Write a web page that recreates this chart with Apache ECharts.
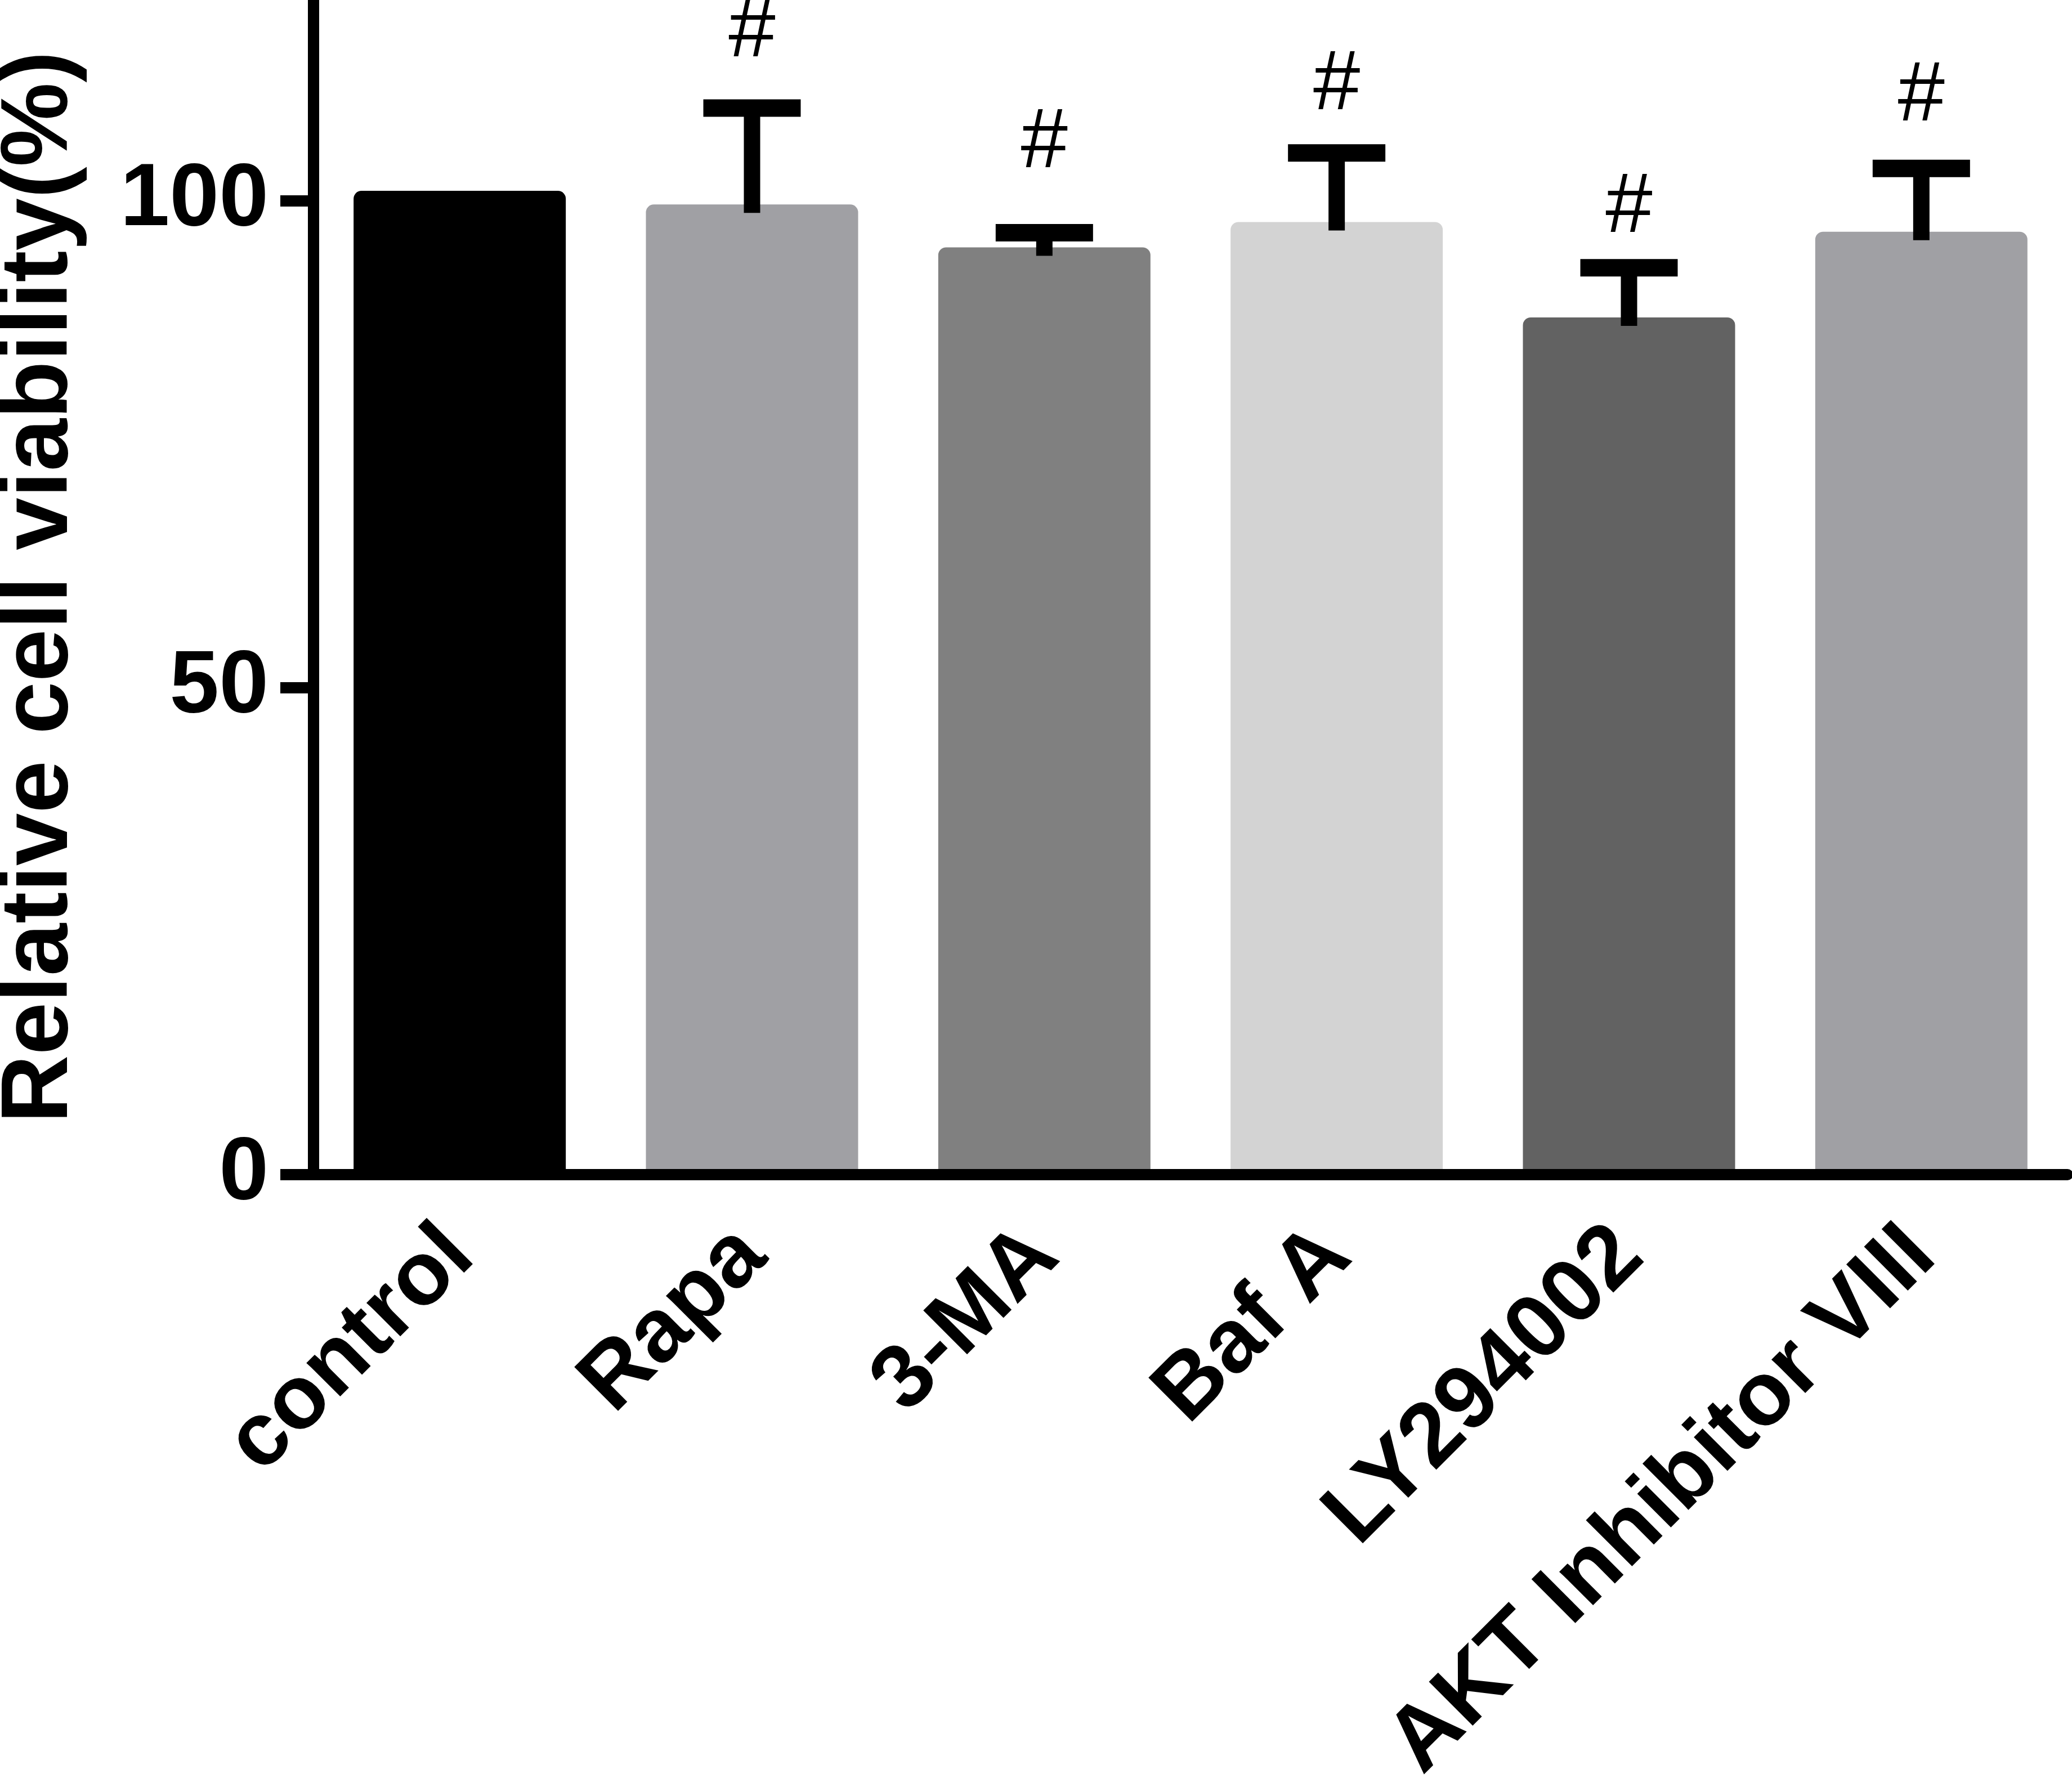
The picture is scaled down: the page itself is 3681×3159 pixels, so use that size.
<!DOCTYPE html>
<html>
<head>
<meta charset="utf-8">
<script src="https://cdn.jsdelivr.net/npm/echarts@6/dist/echarts.min.js"></script>
<style>
html, body { margin: 0; padding: 0; background: #fff; }
#chart { width: 3681px; height: 3159px; }
</style>
</head>
<body>
<div id="chart"></div>
<script>
var groups = ['control', 'Rapa', '3-MA', 'Baf A', 'LY294002', 'AKT Inhibitor VIII'];
var viability = [101.0, 99.6, 95.2, 97.8, 88.0, 96.8];
var sd = [0, 9.9, 1.5, 7.1, 5.1, 6.5];
var hashMark = ['', '#', '#', '#', '#', '#'];
var hashPos = [0, 117.2, 105.8, 111.8, 99.2, 110.6];
var barColors = ['#000000', '#a0a0a4', '#808080', '#d3d3d3', '#626262', '#a0a0a4'];
var yTicks = [0, 50, 100];

var font = '"Liberation Sans", Arial, sans-serif';

var myChart = echarts.init(document.getElementById('chart'));

var option = {
    animation: false,
    backgroundColor: '#ffffff',
    grid: { left: 557, right: 8, top: 0, bottom: 1072.5, outerBoundsMode: 'none', containLabel: false },
    xAxis: {
        type: 'category',
        data: groups,
        z: 5,
        axisLine: { lineStyle: { color: '#000', width: 20 } },
        axisTick: { alignWithLabel: true, length: 59, lineStyle: { color: '#000', width: 20 } },
        axisLabel: {
            interval: 0, rotate: 45, margin: 120,
            fontSize: 160, fontWeight: 'bold', color: '#000', fontFamily: font
        }
    },
    yAxis: {
        type: 'value',
        min: 0, max: 120.6, interval: 50,
        z: 5,
        splitLine: { show: false },
        axisLine: { show: true, lineStyle: { color: '#000', width: 20 } },
        axisTick: { show: true, length: 59, customValues: yTicks, lineStyle: { color: '#000', width: 20 } },
        axisLabel: {
            customValues: yTicks, margin: 80,
            fontSize: 158, fontWeight: 'bold', color: '#000', fontFamily: font
        },
        name: 'Relative cell viability(%)',
        nameLocation: 'middle',
        nameGap: 400,
        nameTextStyle: { fontSize: 168, fontWeight: 'bold', color: '#000', fontFamily: font }
    },
    series: [
        {
            type: 'bar',
            barWidth: 377,
            data: viability.map(function (v, i) {
                return { value: v, itemStyle: { color: barColors[i] } };
            }),
            itemStyle: { borderRadius: [14, 14, 0, 0] }
        },
        {
            // SD error bars
            type: 'custom',
            z: 3,
            data: groups.map(function (g, i) { return [i, viability[i], sd[i]]; }),
            renderItem: function (params, api) {
                var m = api.value(1), e = api.value(2);
                if (!e) return;
                var top = api.coord([api.value(0), m + e]);
                var base = api.coord([api.value(0), m]);
                return {
                    type: 'group',
                    children: [
                        { type: 'rect', shape: { x: top[0] - 14.5, y: top[1], width: 29, height: base[1] + 15 - top[1] }, style: { fill: '#000' } },
                        { type: 'rect', shape: { x: top[0] - 86.5, y: top[1] - 15.5, width: 173, height: 31 }, style: { fill: '#000' } }
                    ]
                };
            }
        },
        {
            // significance marks
            type: 'custom',
            z: 4,
            data: groups.map(function (g, i) { return [i, hashPos[i]]; }),
            renderItem: function (params, api) {
                var txt = hashMark[params.dataIndex];
                if (!txt) return;
                var p = api.coord([api.value(0), api.value(1)]);
                return {
                    type: 'text',
                    x: p[0], y: p[1],
                    style: {
                        text: txt, fill: '#000', fontSize: 150, fontFamily: font,
                        align: 'center', verticalAlign: 'middle'
                    }
                };
            }
        }
    ]
};

option && myChart.setOption(option);
</script>
</body>
</html>
